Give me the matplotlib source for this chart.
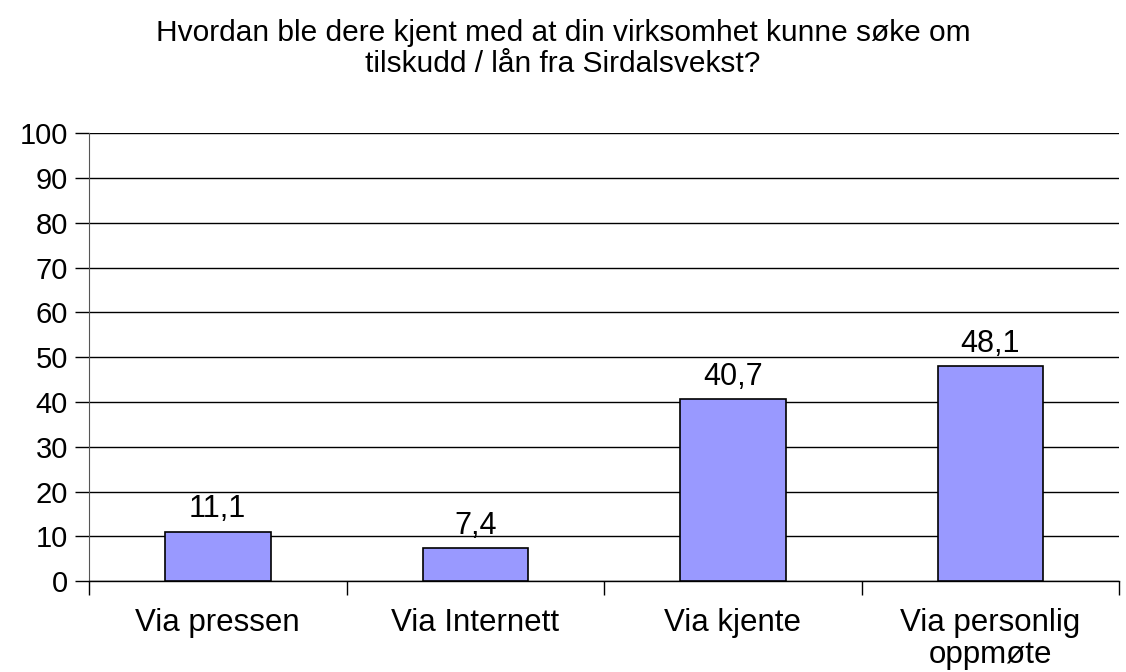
import matplotlib.pyplot as plt
import numpy as np

plt.rcParams['font.family'] = ['Liberation Sans', 'DejaVu Sans']

title = 'Hvordan ble dere kjent med at din virksomhet kunne søke om\ntilskudd / lån fra Sirdalsvekst?'
categories = ['Via pressen', 'Via Internett', 'Via kjente', 'Via personlig\noppmøte']
values = [11.1, 7.4, 40.7, 48.1]
value_labels = ['11,1', '7,4', '40,7', '48,1']
yticks = list(range(0, 101, 10))

fig = plt.figure(figsize=(11.26, 6.72), dpi=100)
ax = fig.add_axes([0.079, 0.135, 0.915, 0.667])

x = np.arange(len(categories))
ax.bar(x, values, width=0.41, color='#9999ff', edgecolor='black', linewidth=1.2, zorder=3)
for xi, v, lab in zip(x, values, value_labels):
    ax.text(xi, v + 1.6, lab, ha='center', va='bottom', fontsize=22)

ax.set_xlim(-0.5, len(categories) - 0.5)
ax.set_ylim(0, 100)
ax.set_yticks(yticks)
ax.set_yticklabels([str(t) for t in yticks], fontsize=21)
ax.yaxis.grid(True, color='black', linewidth=1)
ax.set_axisbelow(True)

# category labels at centres, tick marks at the boundaries
ax.set_xticks(x)
ax.set_xticklabels(categories, fontsize=22.5, linespacing=1.1)
ax.tick_params(axis='x', length=0, pad=19)
ax.set_xticks(np.arange(-0.5, len(categories)), minor=True)
ax.tick_params(axis='x', which='minor', length=10, width=1, direction='out')
ax.tick_params(axis='y', length=10, width=1, direction='out', pad=5)

for s in ['top', 'right']:
    ax.spines[s].set_visible(False)
ax.spines['left'].set_color('#555555')
ax.spines['bottom'].set_linewidth(1)

fig.suptitle(title, fontsize=21.5, y=0.972, va='top', linespacing=1.15)

fig.savefig('out.png', dpi=100)
